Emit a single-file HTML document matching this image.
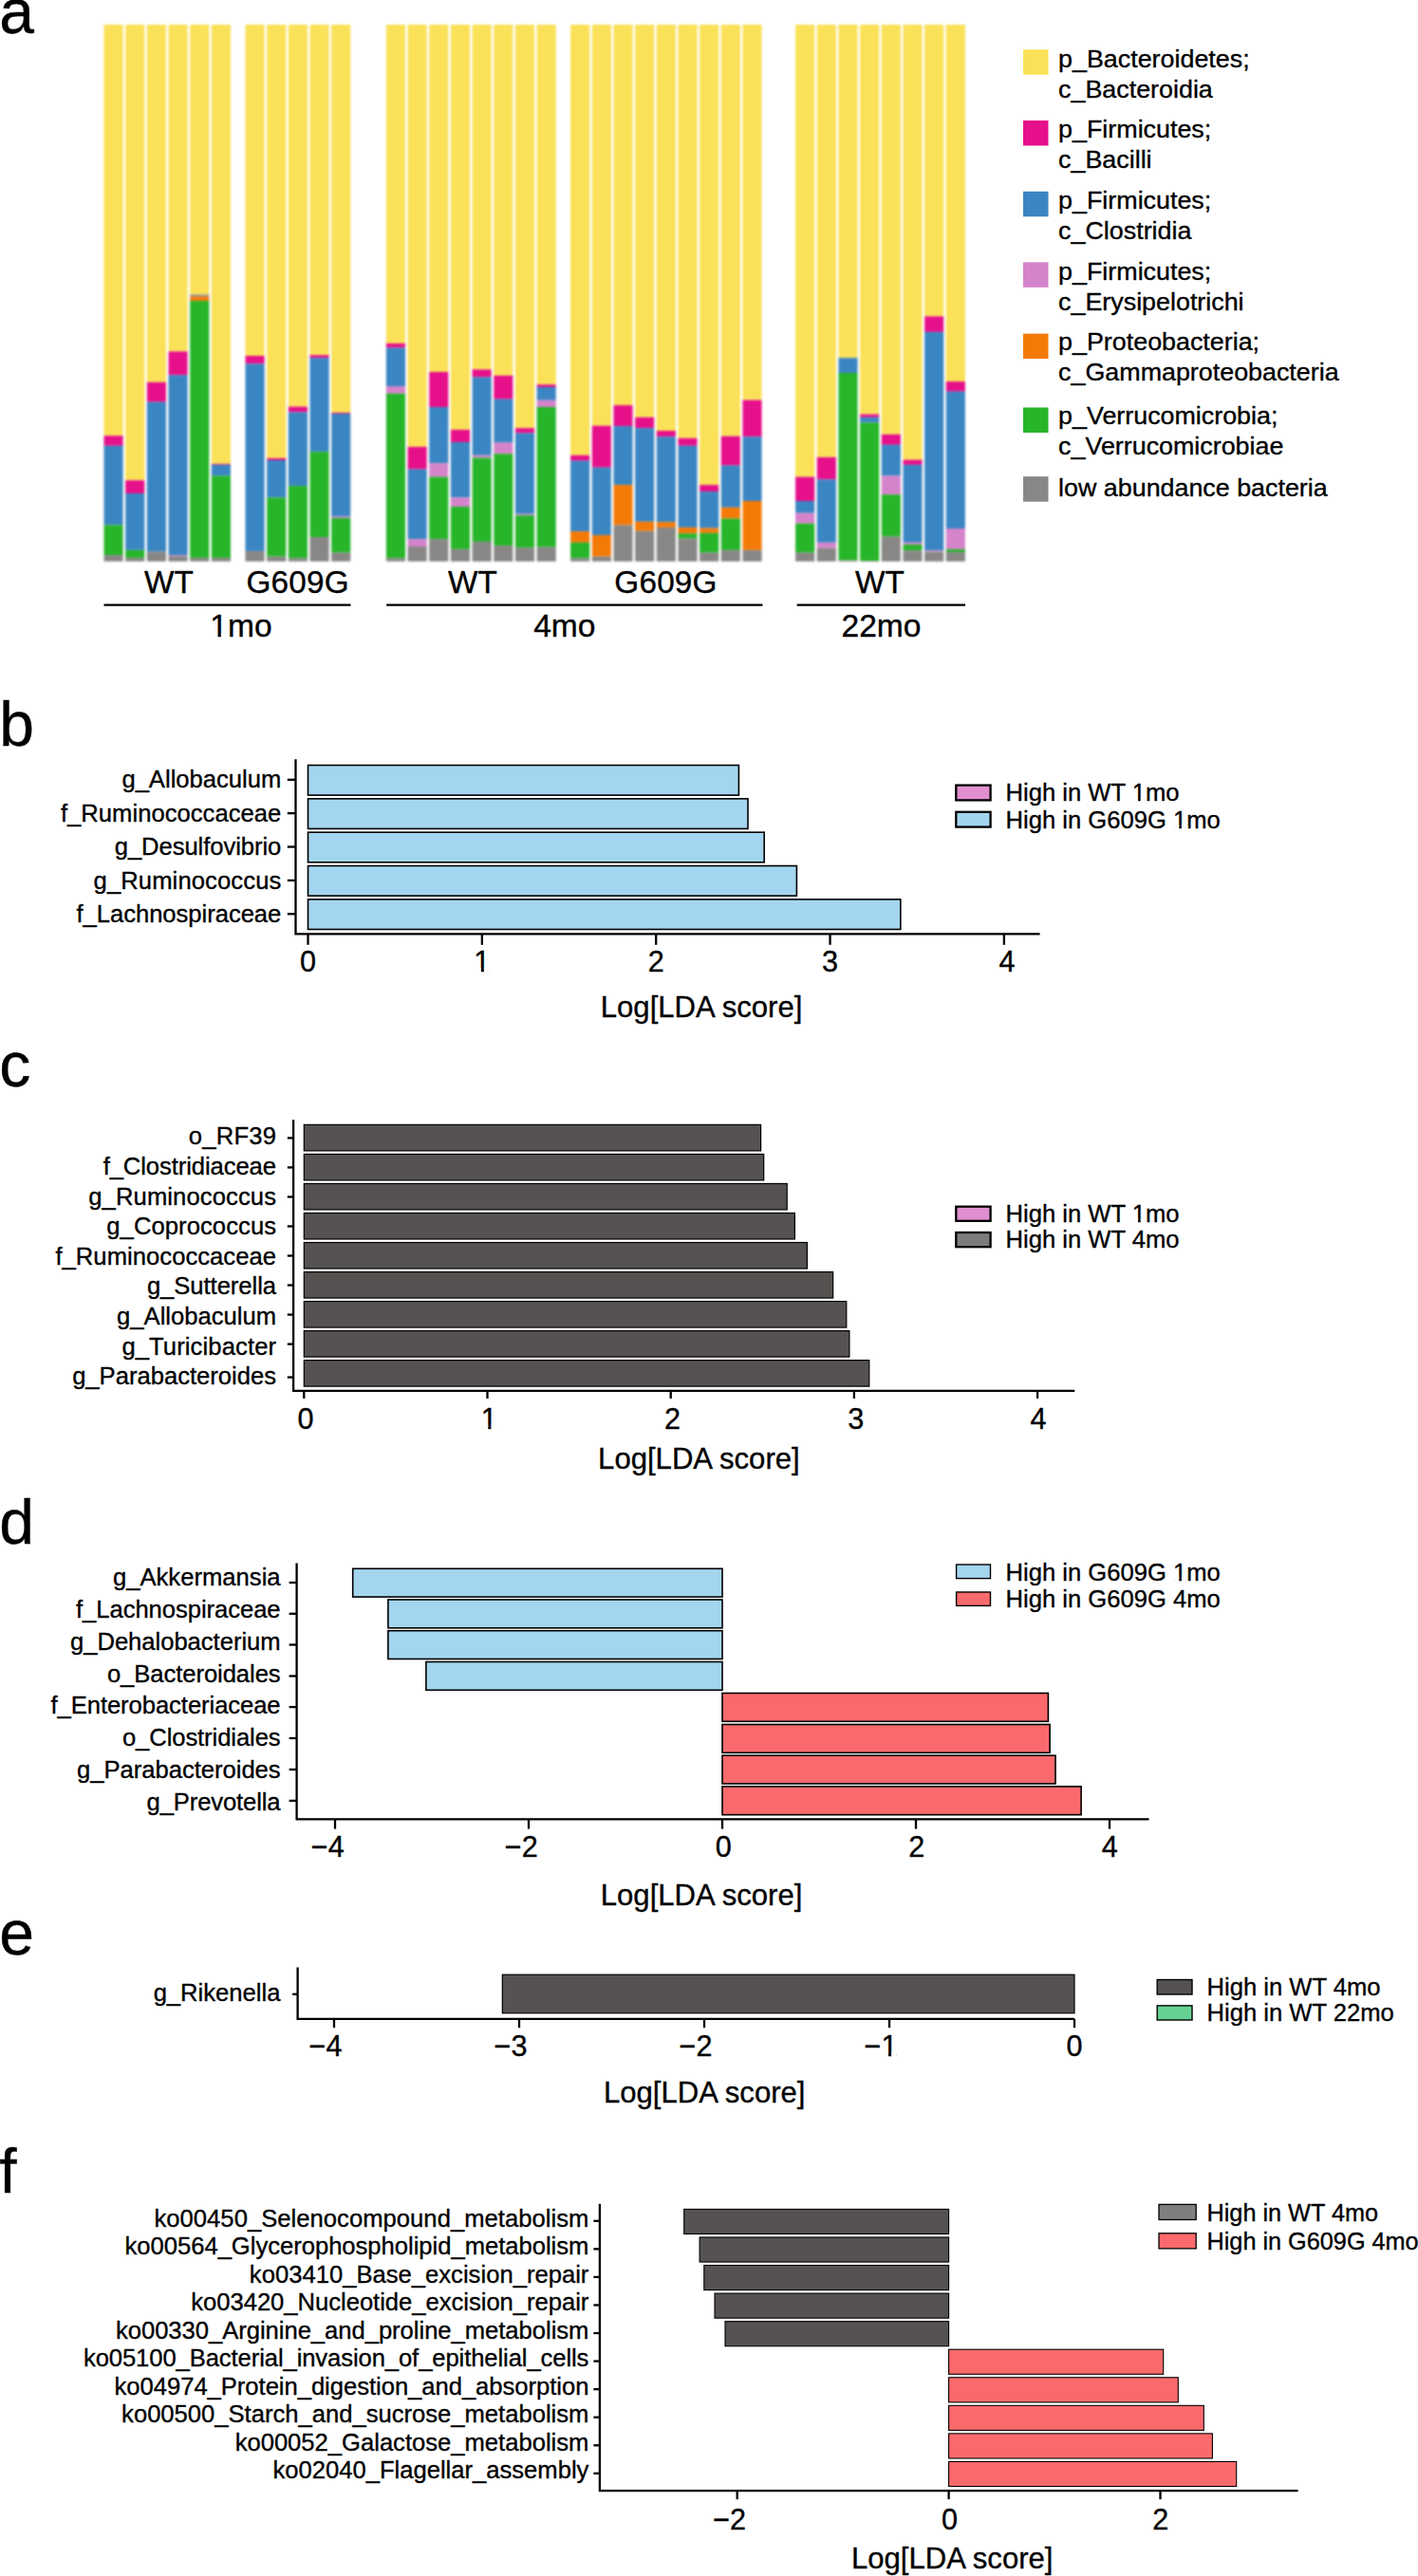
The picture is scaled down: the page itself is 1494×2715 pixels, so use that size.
<!DOCTYPE html>
<html lang="en">
<head>
<meta charset="utf-8">
<title>Figure: gut microbiome composition and LDA scores</title>
<style>
html,body{margin:0;padding:0;background:#fff;}
body{width:1494px;height:2715px;overflow:hidden;}
svg{display:block;}
svg text{font-family:'Liberation Sans', sans-serif;fill:#000;stroke:#000;stroke-width:0.35px;stroke-linejoin:round;}
</style>
</head>
<body>
<svg width="1494" height="2715" viewBox="0 0 1494 2715" shape-rendering="auto">
<defs><filter id="soft" filterUnits="userSpaceOnUse" x="90" y="10" width="950" height="600" color-interpolation-filters="sRGB"><feGaussianBlur stdDeviation="0.8"/></filter></defs>
<rect x="0" y="0" width="1494" height="2715" fill="#fff"/>
<g id="panel-a-bars" filter="url(#soft)">
<rect x="90" y="10" width="950" height="600" fill="#fff"/>
<rect x="109.5" y="26" width="20.1" height="433.2" fill="#FAE158"/>
<rect x="109.5" y="459.2" width="20.1" height="10.6" fill="#E6108A"/>
<rect x="109.5" y="469.8" width="20.1" height="83.6" fill="#3A86C3"/>
<rect x="109.5" y="553.4" width="20.1" height="31.7" fill="#27B52A"/>
<rect x="109.5" y="585.1" width="20.1" height="6.6" fill="#898786"/>
<rect x="132.17" y="26" width="20.1" height="480.2" fill="#FAE158"/>
<rect x="132.17" y="506.2" width="20.1" height="13.8" fill="#E6108A"/>
<rect x="132.17" y="520" width="20.1" height="59.8" fill="#3A86C3"/>
<rect x="132.17" y="579.8" width="20.1" height="8.1" fill="#27B52A"/>
<rect x="132.17" y="587.9" width="20.1" height="3.8" fill="#898786"/>
<rect x="154.84" y="26" width="20.1" height="376.8" fill="#FAE158"/>
<rect x="154.84" y="402.8" width="20.1" height="20.9" fill="#E6108A"/>
<rect x="154.84" y="423.7" width="20.1" height="157.8" fill="#3A86C3"/>
<rect x="154.84" y="581.5" width="20.1" height="10.2" fill="#898786"/>
<rect x="177.51" y="26" width="20.1" height="344.4" fill="#FAE158"/>
<rect x="177.51" y="370.4" width="20.1" height="25" fill="#E6108A"/>
<rect x="177.51" y="395.4" width="20.1" height="189.7" fill="#3A86C3"/>
<rect x="177.51" y="585.1" width="20.1" height="1.1" fill="#D583CB"/>
<rect x="177.51" y="586.2" width="20.1" height="5.5" fill="#898786"/>
<rect x="200.18" y="26" width="20.1" height="284.5" fill="#FAE158"/>
<rect x="200.18" y="310.5" width="20.1" height="2.1" fill="#898786"/>
<rect x="200.18" y="312.6" width="20.1" height="4.5" fill="#F47A08"/>
<rect x="200.18" y="317.1" width="20.1" height="270.8" fill="#27B52A"/>
<rect x="200.18" y="587.9" width="20.1" height="3.8" fill="#898786"/>
<rect x="222.85" y="26" width="20.1" height="462.9" fill="#FAE158"/>
<rect x="222.85" y="488.9" width="20.1" height="1" fill="#E6108A"/>
<rect x="222.85" y="489.9" width="20.1" height="11.6" fill="#3A86C3"/>
<rect x="222.85" y="501.5" width="20.1" height="86.4" fill="#27B52A"/>
<rect x="222.85" y="587.9" width="20.1" height="3.8" fill="#898786"/>
<rect x="258.5" y="26" width="20.1" height="349" fill="#FAE158"/>
<rect x="258.5" y="375" width="20.1" height="8.5" fill="#E6108A"/>
<rect x="258.5" y="383.5" width="20.1" height="197.4" fill="#3A86C3"/>
<rect x="258.5" y="580.9" width="20.1" height="10.8" fill="#898786"/>
<rect x="281.17" y="26" width="20.1" height="456.9" fill="#FAE158"/>
<rect x="281.17" y="482.9" width="20.1" height="2.1" fill="#E6108A"/>
<rect x="281.17" y="485" width="20.1" height="39.4" fill="#3A86C3"/>
<rect x="281.17" y="524.4" width="20.1" height="62.2" fill="#27B52A"/>
<rect x="281.17" y="586.6" width="20.1" height="5.1" fill="#898786"/>
<rect x="303.84" y="26" width="20.1" height="402.6" fill="#FAE158"/>
<rect x="303.84" y="428.6" width="20.1" height="5.9" fill="#E6108A"/>
<rect x="303.84" y="434.5" width="20.1" height="77.6" fill="#3A86C3"/>
<rect x="303.84" y="512.1" width="20.1" height="76.2" fill="#27B52A"/>
<rect x="303.84" y="588.3" width="20.1" height="3.4" fill="#898786"/>
<rect x="326.51" y="26" width="20.1" height="348.2" fill="#FAE158"/>
<rect x="326.51" y="374.2" width="20.1" height="3" fill="#E6108A"/>
<rect x="326.51" y="377.2" width="20.1" height="99" fill="#3A86C3"/>
<rect x="326.51" y="476.2" width="20.1" height="89.9" fill="#27B52A"/>
<rect x="326.51" y="566.1" width="20.1" height="25.6" fill="#898786"/>
<rect x="349.18" y="26" width="20.1" height="408.9" fill="#FAE158"/>
<rect x="349.18" y="434.9" width="20.1" height="1.1" fill="#E6108A"/>
<rect x="349.18" y="436" width="20.1" height="108.5" fill="#3A86C3"/>
<rect x="349.18" y="544.5" width="20.1" height="1.5" fill="#D583CB"/>
<rect x="349.18" y="546" width="20.1" height="36.6" fill="#27B52A"/>
<rect x="349.18" y="582.6" width="20.1" height="9.1" fill="#898786"/>
<rect x="406.9" y="26" width="20.1" height="335.9" fill="#FAE158"/>
<rect x="406.9" y="361.9" width="20.1" height="4.7" fill="#E6108A"/>
<rect x="406.9" y="366.6" width="20.1" height="40.4" fill="#3A86C3"/>
<rect x="406.9" y="407" width="20.1" height="7.8" fill="#D583CB"/>
<rect x="406.9" y="414.8" width="20.1" height="173.5" fill="#27B52A"/>
<rect x="406.9" y="588.3" width="20.1" height="3.4" fill="#898786"/>
<rect x="429.57" y="26" width="20.1" height="444.9" fill="#FAE158"/>
<rect x="429.57" y="470.9" width="20.1" height="23.7" fill="#E6108A"/>
<rect x="429.57" y="494.6" width="20.1" height="73.6" fill="#3A86C3"/>
<rect x="429.57" y="568.2" width="20.1" height="7.8" fill="#D583CB"/>
<rect x="429.57" y="576" width="20.1" height="15.7" fill="#898786"/>
<rect x="452.24" y="26" width="20.1" height="366" fill="#FAE158"/>
<rect x="452.24" y="392" width="20.1" height="37" fill="#E6108A"/>
<rect x="452.24" y="429" width="20.1" height="59.2" fill="#3A86C3"/>
<rect x="452.24" y="488.2" width="20.1" height="14.4" fill="#D583CB"/>
<rect x="452.24" y="502.6" width="20.1" height="65.6" fill="#27B52A"/>
<rect x="452.24" y="568.2" width="20.1" height="23.5" fill="#898786"/>
<rect x="474.91" y="26" width="20.1" height="426.9" fill="#FAE158"/>
<rect x="474.91" y="452.9" width="20.1" height="13.1" fill="#E6108A"/>
<rect x="474.91" y="466" width="20.1" height="58.4" fill="#3A86C3"/>
<rect x="474.91" y="524.4" width="20.1" height="9.5" fill="#D583CB"/>
<rect x="474.91" y="533.9" width="20.1" height="44.9" fill="#27B52A"/>
<rect x="474.91" y="578.8" width="20.1" height="12.9" fill="#898786"/>
<rect x="497.58" y="26" width="20.1" height="363.4" fill="#FAE158"/>
<rect x="497.58" y="389.4" width="20.1" height="8.1" fill="#E6108A"/>
<rect x="497.58" y="397.5" width="20.1" height="82.3" fill="#3A86C3"/>
<rect x="497.58" y="479.8" width="20.1" height="2.7" fill="#D583CB"/>
<rect x="497.58" y="482.5" width="20.1" height="88.4" fill="#27B52A"/>
<rect x="497.58" y="570.9" width="20.1" height="20.8" fill="#898786"/>
<rect x="520.25" y="26" width="20.1" height="369.8" fill="#FAE158"/>
<rect x="520.25" y="395.8" width="20.1" height="24.9" fill="#E6108A"/>
<rect x="520.25" y="420.7" width="20.1" height="45.9" fill="#3A86C3"/>
<rect x="520.25" y="466.6" width="20.1" height="11.7" fill="#D583CB"/>
<rect x="520.25" y="478.3" width="20.1" height="96.9" fill="#27B52A"/>
<rect x="520.25" y="575.2" width="20.1" height="16.5" fill="#898786"/>
<rect x="542.92" y="26" width="20.1" height="425.2" fill="#FAE158"/>
<rect x="542.92" y="451.2" width="20.1" height="5.3" fill="#E6108A"/>
<rect x="542.92" y="456.5" width="20.1" height="85.2" fill="#3A86C3"/>
<rect x="542.92" y="541.7" width="20.1" height="1.5" fill="#D583CB"/>
<rect x="542.92" y="543.2" width="20.1" height="34.1" fill="#27B52A"/>
<rect x="542.92" y="577.3" width="20.1" height="14.4" fill="#898786"/>
<rect x="565.59" y="26" width="20.1" height="379.3" fill="#FAE158"/>
<rect x="565.59" y="405.3" width="20.1" height="2.7" fill="#E6108A"/>
<rect x="565.59" y="408" width="20.1" height="13.8" fill="#3A86C3"/>
<rect x="565.59" y="421.8" width="20.1" height="7.2" fill="#D583CB"/>
<rect x="565.59" y="429" width="20.1" height="147.6" fill="#27B52A"/>
<rect x="565.59" y="576.6" width="20.1" height="15.1" fill="#898786"/>
<rect x="601.1" y="26" width="20.1" height="453.8" fill="#FAE158"/>
<rect x="601.1" y="479.8" width="20.1" height="5.9" fill="#E6108A"/>
<rect x="601.1" y="485.7" width="20.1" height="74.4" fill="#3A86C3"/>
<rect x="601.1" y="560.1" width="20.1" height="11.7" fill="#F47A08"/>
<rect x="601.1" y="571.8" width="20.1" height="16.5" fill="#27B52A"/>
<rect x="601.1" y="588.3" width="20.1" height="3.4" fill="#898786"/>
<rect x="623.77" y="26" width="20.1" height="422.7" fill="#FAE158"/>
<rect x="623.77" y="448.7" width="20.1" height="44" fill="#E6108A"/>
<rect x="623.77" y="492.7" width="20.1" height="71.3" fill="#3A86C3"/>
<rect x="623.77" y="564" width="20.1" height="22.6" fill="#F47A08"/>
<rect x="623.77" y="586.6" width="20.1" height="5.1" fill="#898786"/>
<rect x="646.44" y="26" width="20.1" height="401.1" fill="#FAE158"/>
<rect x="646.44" y="427.1" width="20.1" height="22" fill="#E6108A"/>
<rect x="646.44" y="449.1" width="20.1" height="62" fill="#3A86C3"/>
<rect x="646.44" y="511.1" width="20.1" height="42.3" fill="#F47A08"/>
<rect x="646.44" y="553.4" width="20.1" height="38.3" fill="#898786"/>
<rect x="669.11" y="26" width="20.1" height="413.8" fill="#FAE158"/>
<rect x="669.11" y="439.8" width="20.1" height="11.4" fill="#E6108A"/>
<rect x="669.11" y="451.2" width="20.1" height="98.6" fill="#3A86C3"/>
<rect x="669.11" y="549.8" width="20.1" height="9.9" fill="#F47A08"/>
<rect x="669.11" y="559.7" width="20.1" height="32" fill="#898786"/>
<rect x="691.78" y="26" width="20.1" height="428" fill="#FAE158"/>
<rect x="691.78" y="454" width="20.1" height="6.3" fill="#E6108A"/>
<rect x="691.78" y="460.3" width="20.1" height="89.9" fill="#3A86C3"/>
<rect x="691.78" y="550.2" width="20.1" height="5.7" fill="#F47A08"/>
<rect x="691.78" y="555.9" width="20.1" height="35.8" fill="#898786"/>
<rect x="714.45" y="26" width="20.1" height="435.8" fill="#FAE158"/>
<rect x="714.45" y="461.8" width="20.1" height="8" fill="#E6108A"/>
<rect x="714.45" y="469.8" width="20.1" height="86.1" fill="#3A86C3"/>
<rect x="714.45" y="555.9" width="20.1" height="6.4" fill="#F47A08"/>
<rect x="714.45" y="562.3" width="20.1" height="5.3" fill="#27B52A"/>
<rect x="714.45" y="567.6" width="20.1" height="24.1" fill="#898786"/>
<rect x="737.12" y="26" width="20.1" height="485.1" fill="#FAE158"/>
<rect x="737.12" y="511.1" width="20.1" height="7" fill="#E6108A"/>
<rect x="737.12" y="518.1" width="20.1" height="38.5" fill="#3A86C3"/>
<rect x="737.12" y="556.6" width="20.1" height="5.2" fill="#F47A08"/>
<rect x="737.12" y="561.8" width="20.1" height="20.8" fill="#27B52A"/>
<rect x="737.12" y="582.6" width="20.1" height="9.1" fill="#898786"/>
<rect x="759.79" y="26" width="20.1" height="433.7" fill="#FAE158"/>
<rect x="759.79" y="459.7" width="20.1" height="30.9" fill="#E6108A"/>
<rect x="759.79" y="490.6" width="20.1" height="44.2" fill="#3A86C3"/>
<rect x="759.79" y="534.8" width="20.1" height="11.8" fill="#F47A08"/>
<rect x="759.79" y="546.6" width="20.1" height="33.2" fill="#27B52A"/>
<rect x="759.79" y="579.8" width="20.1" height="11.9" fill="#898786"/>
<rect x="782.46" y="26" width="20.1" height="395.6" fill="#FAE158"/>
<rect x="782.46" y="421.6" width="20.1" height="38.7" fill="#E6108A"/>
<rect x="782.46" y="460.3" width="20.1" height="67.7" fill="#3A86C3"/>
<rect x="782.46" y="528" width="20.1" height="51.8" fill="#F47A08"/>
<rect x="782.46" y="579.8" width="20.1" height="11.9" fill="#898786"/>
<rect x="838.1" y="26" width="20.1" height="476.6" fill="#FAE158"/>
<rect x="838.1" y="502.6" width="20.1" height="25.4" fill="#E6108A"/>
<rect x="838.1" y="528" width="20.1" height="12.7" fill="#3A86C3"/>
<rect x="838.1" y="540.7" width="20.1" height="11" fill="#D583CB"/>
<rect x="838.1" y="551.7" width="20.1" height="30.9" fill="#27B52A"/>
<rect x="838.1" y="582.6" width="20.1" height="9.1" fill="#898786"/>
<rect x="860.77" y="26" width="20.1" height="455.9" fill="#FAE158"/>
<rect x="860.77" y="481.9" width="20.1" height="23.5" fill="#E6108A"/>
<rect x="860.77" y="505.4" width="20.1" height="66.4" fill="#3A86C3"/>
<rect x="860.77" y="571.8" width="20.1" height="5.9" fill="#D583CB"/>
<rect x="860.77" y="577.7" width="20.1" height="14" fill="#898786"/>
<rect x="883.44" y="26" width="20.1" height="351.2" fill="#FAE158"/>
<rect x="883.44" y="377.2" width="20.1" height="15.8" fill="#3A86C3"/>
<rect x="883.44" y="393" width="20.1" height="197.6" fill="#27B52A"/>
<rect x="883.44" y="590.6" width="20.1" height="1.1" fill="#898786"/>
<rect x="906.11" y="26" width="20.1" height="410.6" fill="#FAE158"/>
<rect x="906.11" y="436.6" width="20.1" height="3.2" fill="#E6108A"/>
<rect x="906.11" y="439.8" width="20.1" height="5.7" fill="#3A86C3"/>
<rect x="906.11" y="445.5" width="20.1" height="145.5" fill="#27B52A"/>
<rect x="906.11" y="591" width="20.1" height="0.7" fill="#898786"/>
<rect x="928.78" y="26" width="20.1" height="431.8" fill="#FAE158"/>
<rect x="928.78" y="457.8" width="20.1" height="11" fill="#E6108A"/>
<rect x="928.78" y="468.8" width="20.1" height="32.7" fill="#3A86C3"/>
<rect x="928.78" y="501.5" width="20.1" height="19.7" fill="#D583CB"/>
<rect x="928.78" y="521.2" width="20.1" height="44.4" fill="#27B52A"/>
<rect x="928.78" y="565.6" width="20.1" height="26.1" fill="#898786"/>
<rect x="951.45" y="26" width="20.1" height="458.6" fill="#FAE158"/>
<rect x="951.45" y="484.6" width="20.1" height="5.3" fill="#E6108A"/>
<rect x="951.45" y="489.9" width="20.1" height="81.9" fill="#3A86C3"/>
<rect x="951.45" y="571.8" width="20.1" height="2.1" fill="#D583CB"/>
<rect x="951.45" y="573.9" width="20.1" height="6.3" fill="#27B52A"/>
<rect x="951.45" y="580.2" width="20.1" height="11.5" fill="#898786"/>
<rect x="974.12" y="26" width="20.1" height="307.4" fill="#FAE158"/>
<rect x="974.12" y="333.4" width="20.1" height="16.5" fill="#E6108A"/>
<rect x="974.12" y="349.9" width="20.1" height="230.3" fill="#3A86C3"/>
<rect x="974.12" y="580.2" width="20.1" height="1.3" fill="#D583CB"/>
<rect x="974.12" y="581.5" width="20.1" height="10.2" fill="#898786"/>
<rect x="996.79" y="26" width="20.1" height="376.1" fill="#FAE158"/>
<rect x="996.79" y="402.1" width="20.1" height="10.6" fill="#E6108A"/>
<rect x="996.79" y="412.7" width="20.1" height="144.3" fill="#3A86C3"/>
<rect x="996.79" y="557" width="20.1" height="21.8" fill="#D583CB"/>
<rect x="996.79" y="578.8" width="20.1" height="3.1" fill="#27B52A"/>
<rect x="996.79" y="581.9" width="20.1" height="9.8" fill="#898786"/>
</g>
<g id="panel-a-groups">
<text x="178" y="624.8" font-size="33.3" text-anchor="middle">WT</text>
<text x="313.5" y="624.8" font-size="33.3" text-anchor="middle" textLength="108.2" lengthAdjust="spacing">G609G</text>
<text x="498" y="624.8" font-size="33.3" text-anchor="middle">WT</text>
<text x="701.4" y="624.8" font-size="33.3" text-anchor="middle" textLength="108.2" lengthAdjust="spacing">G609G</text>
<text x="926.9" y="624.8" font-size="33.3" text-anchor="middle">WT</text>
<line x1="109.5" y1="637.7" x2="369.5" y2="637.7" stroke="#000" stroke-width="2.2"/>
<line x1="407.2" y1="637.7" x2="803.4" y2="637.7" stroke="#000" stroke-width="2.2"/>
<line x1="839.6" y1="637.7" x2="1017" y2="637.7" stroke="#000" stroke-width="2.2"/>
<text x="253.9" y="671" font-size="33.6" text-anchor="middle">1mo</text>
<text x="594.8" y="671" font-size="33.6" text-anchor="middle">4mo</text>
<text x="928.5" y="671" font-size="33.6" text-anchor="middle">22mo</text>
</g>
<g id="panel-a-legend">
<rect x="1078" y="52.2" width="26.5" height="26.5" fill="#FAE158"/>
<text transform="translate(1115.1 70.5) scale(1.066 1)" font-size="25.2">p_Bacteroidetes;</text>
<text transform="translate(1115.1 102.7) scale(1.066 1)" font-size="25.2">c_Bacteroidia</text>
<rect x="1078" y="127" width="26.5" height="26.5" fill="#E6108A"/>
<text transform="translate(1115.1 145) scale(1.066 1)" font-size="25.2">p_Firmicutes;</text>
<text transform="translate(1115.1 177.2) scale(1.066 1)" font-size="25.2">c_Bacilli</text>
<rect x="1078" y="201.8" width="26.5" height="26.5" fill="#3A86C3"/>
<text transform="translate(1115.1 219.8) scale(1.066 1)" font-size="25.2">p_Firmicutes;</text>
<text transform="translate(1115.1 252) scale(1.066 1)" font-size="25.2">c_Clostridia</text>
<rect x="1078" y="276.4" width="26.5" height="26.5" fill="#D583CB"/>
<text transform="translate(1115.1 295) scale(1.066 1)" font-size="25.2">p_Firmicutes;</text>
<text transform="translate(1115.1 327.2) scale(1.066 1)" font-size="25.2">c_Erysipelotrichi</text>
<rect x="1078" y="351.6" width="26.5" height="26.5" fill="#F47A08"/>
<text transform="translate(1115.1 369) scale(1.066 1)" font-size="25.2">p_Proteobacteria;</text>
<text transform="translate(1115.1 401.2) scale(1.066 1)" font-size="25.2">c_Gammaproteobacteria</text>
<rect x="1078" y="429.5" width="26.5" height="26.5" fill="#27B52A"/>
<text transform="translate(1115.1 446.8) scale(1.066 1)" font-size="25.2">p_Verrucomicrobia;</text>
<text transform="translate(1115.1 478.9) scale(1.066 1)" font-size="25.2">c_Verrucomicrobiae</text>
<rect x="1078" y="502.2" width="26.5" height="26.5" fill="#898786"/>
<text transform="translate(1115.1 523.1) scale(1.066 1)" font-size="25.2">low abundance bacteria</text>
</g>
<g id="panel-letters">
<text x="-0.7" y="35" font-size="66" text-anchor="start">a</text>
<text x="-0.7" y="785.7" font-size="66" text-anchor="start">b</text>
<text x="-0.7" y="1145" font-size="66" text-anchor="start">c</text>
<text x="-0.7" y="1627" font-size="66" text-anchor="start">d</text>
<text x="-0.7" y="2059.6" font-size="66" text-anchor="start">e</text>
<text x="-0.7" y="2310.6" font-size="66" text-anchor="start">f</text>
</g>
<g id="panel-b">
<rect x="324.5" y="806.5" width="453.9" height="31.6" fill="#A4D5EE" stroke="#000" stroke-width="1.6"/>
<rect x="324.5" y="841.85" width="463.5" height="31.6" fill="#A4D5EE" stroke="#000" stroke-width="1.6"/>
<rect x="324.5" y="877.2" width="480.7" height="31.6" fill="#A4D5EE" stroke="#000" stroke-width="1.6"/>
<rect x="324.5" y="912.55" width="514.9" height="31.6" fill="#A4D5EE" stroke="#000" stroke-width="1.6"/>
<rect x="324.5" y="947.9" width="624.3" height="31.6" fill="#A4D5EE" stroke="#000" stroke-width="1.6"/>
<polyline points="311.5,800.3 311.5,984.4 1095.6,984.4" fill="none" stroke="#000" stroke-width="2.3" stroke-linejoin="miter"/>
<line x1="302.8" y1="821.8" x2="311.5" y2="821.8" stroke="#000" stroke-width="2.3"/>
<line x1="302.8" y1="857.17" x2="311.5" y2="857.17" stroke="#000" stroke-width="2.3"/>
<line x1="302.8" y1="892.54" x2="311.5" y2="892.54" stroke="#000" stroke-width="2.3"/>
<line x1="302.8" y1="927.91" x2="311.5" y2="927.91" stroke="#000" stroke-width="2.3"/>
<line x1="302.8" y1="963.28" x2="311.5" y2="963.28" stroke="#000" stroke-width="2.3"/>
<line x1="324.5" y1="984.4" x2="324.5" y2="995.8" stroke="#000" stroke-width="2.3"/>
<text x="324.5" y="1023.6" font-size="30.6" text-anchor="middle">0</text>
<line x1="507.85" y1="984.4" x2="507.85" y2="995.8" stroke="#000" stroke-width="2.3"/>
<text x="507.85" y="1023.6" font-size="30.6" text-anchor="middle">1</text>
<line x1="691.2" y1="984.4" x2="691.2" y2="995.8" stroke="#000" stroke-width="2.3"/>
<text x="691.2" y="1023.6" font-size="30.6" text-anchor="middle">2</text>
<line x1="874.55" y1="984.4" x2="874.55" y2="995.8" stroke="#000" stroke-width="2.3"/>
<text x="874.55" y="1023.6" font-size="30.6" text-anchor="middle">3</text>
<line x1="1057.9" y1="984.4" x2="1057.9" y2="995.8" stroke="#000" stroke-width="2.3"/>
<text x="1061" y="1023.6" font-size="30.6" text-anchor="middle">4</text>
<text x="296.3" y="830.4" font-size="25.6" text-anchor="end">g_Allobaculum</text>
<text x="296.3" y="865.77" font-size="25.6" text-anchor="end" textLength="232.41" lengthAdjust="spacing">f_Ruminococcaceae</text>
<text x="296.3" y="901.14" font-size="25.6" text-anchor="end" textLength="175.52" lengthAdjust="spacing">g_Desulfovibrio</text>
<text x="296.3" y="936.51" font-size="25.6" text-anchor="end" textLength="197.73" lengthAdjust="spacing">g_Ruminococcus</text>
<text x="296.3" y="971.88" font-size="25.6" text-anchor="end" textLength="215.8" lengthAdjust="spacing">f_Lachnospiraceae</text>
<text x="739.1" y="1071.6" font-size="31.1" text-anchor="middle">Log[LDA score]</text>
<rect x="1007.3" y="827.6" width="36.3" height="15.8" fill="#E08FD0" stroke="#000" stroke-width="2.3"/>
<text x="1059.6" y="844.3" font-size="25.6" text-anchor="start">High in WT 1mo</text>
<rect x="1007.3" y="855.8" width="36.3" height="15.8" fill="#A4D5EE" stroke="#000" stroke-width="2.3"/>
<text x="1059.6" y="872.5" font-size="25.6" text-anchor="start">High in G609G 1mo</text>
</g>
<g id="panel-c">
<rect x="320.3" y="1185.4" width="481.3" height="27.5" fill="#565251" stroke="#000" stroke-width="1.2"/>
<rect x="320.3" y="1216.43" width="484.4" height="27.5" fill="#565251" stroke="#000" stroke-width="1.2"/>
<rect x="320.3" y="1247.46" width="508.9" height="27.5" fill="#565251" stroke="#000" stroke-width="1.2"/>
<rect x="320.3" y="1278.49" width="517.1" height="27.5" fill="#565251" stroke="#000" stroke-width="1.2"/>
<rect x="320.3" y="1309.52" width="530.1" height="27.5" fill="#565251" stroke="#000" stroke-width="1.2"/>
<rect x="320.3" y="1340.55" width="557.4" height="27.5" fill="#565251" stroke="#000" stroke-width="1.2"/>
<rect x="320.3" y="1371.58" width="571.5" height="27.5" fill="#565251" stroke="#000" stroke-width="1.2"/>
<rect x="320.3" y="1402.61" width="574.6" height="27.5" fill="#565251" stroke="#000" stroke-width="1.2"/>
<rect x="320.3" y="1433.64" width="595.5" height="27.5" fill="#565251" stroke="#000" stroke-width="1.2"/>
<polyline points="309.1,1180.3 309.1,1465.8 1132.3,1465.8" fill="none" stroke="#000" stroke-width="2.3" stroke-linejoin="miter"/>
<line x1="302.8" y1="1199.4" x2="309.1" y2="1199.4" stroke="#000" stroke-width="2.3"/>
<line x1="302.8" y1="1230.43" x2="309.1" y2="1230.43" stroke="#000" stroke-width="2.3"/>
<line x1="302.8" y1="1261.46" x2="309.1" y2="1261.46" stroke="#000" stroke-width="2.3"/>
<line x1="302.8" y1="1292.49" x2="309.1" y2="1292.49" stroke="#000" stroke-width="2.3"/>
<line x1="302.8" y1="1323.52" x2="309.1" y2="1323.52" stroke="#000" stroke-width="2.3"/>
<line x1="302.8" y1="1354.55" x2="309.1" y2="1354.55" stroke="#000" stroke-width="2.3"/>
<line x1="302.8" y1="1385.58" x2="309.1" y2="1385.58" stroke="#000" stroke-width="2.3"/>
<line x1="302.8" y1="1416.61" x2="309.1" y2="1416.61" stroke="#000" stroke-width="2.3"/>
<line x1="302.8" y1="1451.6" x2="309.1" y2="1451.6" stroke="#000" stroke-width="2.3"/>
<line x1="320.3" y1="1465.8" x2="320.3" y2="1474" stroke="#000" stroke-width="2.3"/>
<text x="322.1" y="1505.9" font-size="30.6" text-anchor="middle">0</text>
<line x1="513.5" y1="1465.8" x2="513.5" y2="1474" stroke="#000" stroke-width="2.3"/>
<text x="515.3" y="1505.9" font-size="30.6" text-anchor="middle">1</text>
<line x1="706.7" y1="1465.8" x2="706.7" y2="1474" stroke="#000" stroke-width="2.3"/>
<text x="708.5" y="1505.9" font-size="30.6" text-anchor="middle">2</text>
<line x1="899.9" y1="1465.8" x2="899.9" y2="1474" stroke="#000" stroke-width="2.3"/>
<text x="901.7" y="1505.9" font-size="30.6" text-anchor="middle">3</text>
<line x1="1093.1" y1="1465.8" x2="1093.1" y2="1474" stroke="#000" stroke-width="2.3"/>
<text x="1093.9" y="1505.9" font-size="30.6" text-anchor="middle">4</text>
<text x="291" y="1206.3" font-size="25.6" text-anchor="end" textLength="92.26" lengthAdjust="spacing">o_RF39</text>
<text x="291" y="1237.9" font-size="25.6" text-anchor="end" textLength="182.33" lengthAdjust="spacing">f_Clostridiaceae</text>
<text x="291" y="1269.5" font-size="25.6" text-anchor="end" textLength="197.73" lengthAdjust="spacing">g_Ruminococcus</text>
<text x="291" y="1301.1" font-size="25.6" text-anchor="end" textLength="178.74" lengthAdjust="spacing">g_Coprococcus</text>
<text x="291" y="1332.7" font-size="25.6" text-anchor="end" textLength="232.61" lengthAdjust="spacing">f_Ruminococcaceae</text>
<text x="291" y="1364.3" font-size="25.6" text-anchor="end" textLength="136.09" lengthAdjust="spacing">g_Sutterella</text>
<text x="291" y="1395.9" font-size="25.6" text-anchor="end">g_Allobaculum</text>
<text x="291" y="1427.5" font-size="25.6" text-anchor="end" textLength="162.62" lengthAdjust="spacing">g_Turicibacter</text>
<text x="291" y="1458.8" font-size="25.6" text-anchor="end">g_Parabacteroides</text>
<text x="736.4" y="1548.2" font-size="31.1" text-anchor="middle">Log[LDA score]</text>
<rect x="1007.3" y="1271.7" width="36.3" height="15.1" fill="#E08FD0" stroke="#000" stroke-width="2.3"/>
<text x="1059.6" y="1287.9" font-size="25.6" text-anchor="start">High in WT 1mo</text>
<rect x="1007.3" y="1299" width="36.3" height="15.2" fill="#7E7C7B" stroke="#000" stroke-width="2.3"/>
<text x="1059.6" y="1315.3" font-size="25.6" text-anchor="start">High in WT 4mo</text>
</g>
<g id="panel-d">
<rect x="371.7" y="1653.3" width="389.3" height="29.8" fill="#A4D5EE" stroke="#000" stroke-width="1.6"/>
<rect x="408.9" y="1686" width="352.1" height="29.8" fill="#A4D5EE" stroke="#000" stroke-width="1.6"/>
<rect x="408.9" y="1718.7" width="352.1" height="29.8" fill="#A4D5EE" stroke="#000" stroke-width="1.6"/>
<rect x="448.9" y="1751.5" width="312.1" height="29.8" fill="#A4D5EE" stroke="#000" stroke-width="1.6"/>
<rect x="761" y="1784.5" width="343.4" height="29.8" fill="#FA6A6D" stroke="#000" stroke-width="1.6"/>
<rect x="761" y="1817.5" width="345.1" height="29.8" fill="#FA6A6D" stroke="#000" stroke-width="1.6"/>
<rect x="761" y="1850.2" width="351" height="29.8" fill="#FA6A6D" stroke="#000" stroke-width="1.6"/>
<rect x="761" y="1882.9" width="378.1" height="29.8" fill="#FA6A6D" stroke="#000" stroke-width="1.6"/>
<polyline points="312.6,1647.5 312.6,1917.4 1210.5,1917.4" fill="none" stroke="#000" stroke-width="2.3" stroke-linejoin="miter"/>
<line x1="304.6" y1="1668" x2="312.6" y2="1668" stroke="#000" stroke-width="2.3"/>
<line x1="304.6" y1="1700.8" x2="312.6" y2="1700.8" stroke="#000" stroke-width="2.3"/>
<line x1="304.6" y1="1733.5" x2="312.6" y2="1733.5" stroke="#000" stroke-width="2.3"/>
<line x1="304.6" y1="1766.5" x2="312.6" y2="1766.5" stroke="#000" stroke-width="2.3"/>
<line x1="304.6" y1="1799.1" x2="312.6" y2="1799.1" stroke="#000" stroke-width="2.3"/>
<line x1="304.6" y1="1832" x2="312.6" y2="1832" stroke="#000" stroke-width="2.3"/>
<line x1="304.6" y1="1865" x2="312.6" y2="1865" stroke="#000" stroke-width="2.3"/>
<line x1="304.6" y1="1897.9" x2="312.6" y2="1897.9" stroke="#000" stroke-width="2.3"/>
<line x1="353" y1="1917.4" x2="353" y2="1927.6" stroke="#000" stroke-width="2.3"/>
<text x="362.71" y="1956.5" font-size="30.6" text-anchor="end">−4</text>
<line x1="557" y1="1917.4" x2="557" y2="1927.6" stroke="#000" stroke-width="2.3"/>
<text x="566.71" y="1956.5" font-size="30.6" text-anchor="end">−2</text>
<line x1="761" y1="1917.4" x2="761" y2="1927.6" stroke="#000" stroke-width="2.3"/>
<text x="762.2" y="1956.5" font-size="30.6" text-anchor="middle">0</text>
<line x1="965" y1="1917.4" x2="965" y2="1927.6" stroke="#000" stroke-width="2.3"/>
<text x="965.8" y="1956.5" font-size="30.6" text-anchor="middle">2</text>
<line x1="1169" y1="1917.4" x2="1169" y2="1927.6" stroke="#000" stroke-width="2.3"/>
<text x="1169.3" y="1956.5" font-size="30.6" text-anchor="middle">4</text>
<text x="295.6" y="1671" font-size="25.6" text-anchor="end" textLength="176.71" lengthAdjust="spacing">g_Akkermansia</text>
<text x="295.6" y="1704.8" font-size="25.6" text-anchor="end" textLength="215.6" lengthAdjust="spacing">f_Lachnospiraceae</text>
<text x="295.6" y="1738.7" font-size="25.6" text-anchor="end" textLength="221.6" lengthAdjust="spacing">g_Dehalobacterium</text>
<text x="295.6" y="1772.5" font-size="25.6" text-anchor="end" textLength="182.65" lengthAdjust="spacing">o_Bacteroidales</text>
<text x="295.6" y="1806.4" font-size="25.6" text-anchor="end" textLength="242.11" lengthAdjust="spacing">f_Enterobacteriaceae</text>
<text x="295.6" y="1840.2" font-size="25.6" text-anchor="end" textLength="166.66" lengthAdjust="spacing">o_Clostridiales</text>
<text x="295.6" y="1874.1" font-size="25.6" text-anchor="end" textLength="214.51" lengthAdjust="spacing">g_Parabacteroides</text>
<text x="295.6" y="1907.7" font-size="25.6" text-anchor="end" textLength="141.08" lengthAdjust="spacing">g_Prevotella</text>
<text x="739.1" y="2007.9" font-size="31.1" text-anchor="middle">Log[LDA score]</text>
<rect x="1007.6" y="1649" width="35.9" height="14.6" fill="#A4D5EE" stroke="#000" stroke-width="1.4"/>
<text x="1059.6" y="1665.5" font-size="25.6" text-anchor="start">High in G609G 1mo</text>
<rect x="1007.6" y="1678" width="35.9" height="14.4" fill="#FA6A6D" stroke="#000" stroke-width="1.4"/>
<text x="1059.6" y="1693.7" font-size="25.6" text-anchor="start">High in G609G 4mo</text>
</g>
<g id="panel-e">
<rect x="529.3" y="2081.2" width="602.7" height="40.6" fill="#565251" stroke="#000" stroke-width="1.2"/>
<polyline points="313.6,2073.6 313.6,2127.9 1132,2127.9" fill="none" stroke="#000" stroke-width="2.3" stroke-linejoin="miter"/>
<line x1="308.1" y1="2101.8" x2="313.6" y2="2101.8" stroke="#000" stroke-width="2.3"/>
<line x1="352" y1="2127.9" x2="352" y2="2137.2" stroke="#000" stroke-width="2.3"/>
<text x="360.51" y="2166.7" font-size="30.6" text-anchor="end">−4</text>
<line x1="547" y1="2127.9" x2="547" y2="2137.2" stroke="#000" stroke-width="2.3"/>
<text x="555.51" y="2166.7" font-size="30.6" text-anchor="end">−3</text>
<line x1="742" y1="2127.9" x2="742" y2="2137.2" stroke="#000" stroke-width="2.3"/>
<text x="750.51" y="2166.7" font-size="30.6" text-anchor="end">−2</text>
<line x1="937" y1="2127.9" x2="937" y2="2137.2" stroke="#000" stroke-width="2.3"/>
<text x="945.51" y="2166.7" font-size="30.6" text-anchor="end">−1</text>
<line x1="1132" y1="2127.9" x2="1132" y2="2137.2" stroke="#000" stroke-width="2.3"/>
<text x="1132" y="2166.7" font-size="30.6" text-anchor="middle">0</text>
<text x="295.4" y="2108.9" font-size="25.6" text-anchor="end">g_Rikenella</text>
<text x="742.2" y="2216.1" font-size="31.1" text-anchor="middle">Log[LDA score]</text>
<rect x="1219.2" y="2086.5" width="36.8" height="15.5" fill="#565251" stroke="#000" stroke-width="1.4"/>
<text x="1271.5" y="2103.1" font-size="25.6" text-anchor="start">High in WT 4mo</text>
<rect x="1219.2" y="2113.9" width="36.8" height="15.1" fill="#65D192" stroke="#000" stroke-width="1.4"/>
<text x="1271.5" y="2130.1" font-size="25.6" text-anchor="start">High in WT 22mo</text>
</g>
<g id="panel-f">
<rect x="720.7" y="2328.4" width="278.9" height="26.1" fill="#565251" stroke="#000" stroke-width="1.1"/>
<rect x="737.1" y="2357.96" width="262.5" height="26.1" fill="#565251" stroke="#000" stroke-width="1.1"/>
<rect x="741.8" y="2387.52" width="257.8" height="26.1" fill="#565251" stroke="#000" stroke-width="1.1"/>
<rect x="753" y="2417.08" width="246.6" height="26.1" fill="#565251" stroke="#000" stroke-width="1.1"/>
<rect x="764" y="2446.64" width="235.6" height="26.1" fill="#565251" stroke="#000" stroke-width="1.1"/>
<rect x="999.6" y="2476.2" width="226.1" height="26.1" fill="#FA6A6D" stroke="#000" stroke-width="1.1"/>
<rect x="999.6" y="2505.76" width="241.7" height="26.1" fill="#FA6A6D" stroke="#000" stroke-width="1.1"/>
<rect x="999.6" y="2535.32" width="268.7" height="26.1" fill="#FA6A6D" stroke="#000" stroke-width="1.1"/>
<rect x="999.6" y="2564.88" width="277.8" height="26.1" fill="#FA6A6D" stroke="#000" stroke-width="1.1"/>
<rect x="999.6" y="2594.44" width="303.1" height="26.1" fill="#FA6A6D" stroke="#000" stroke-width="1.1"/>
<polyline points="631.9,2322.8 631.9,2625.2 1367.6,2625.2" fill="none" stroke="#000" stroke-width="2.3" stroke-linejoin="miter"/>
<line x1="625.4" y1="2340.8" x2="631.9" y2="2340.8" stroke="#000" stroke-width="2.3"/>
<line x1="625.4" y1="2370.36" x2="631.9" y2="2370.36" stroke="#000" stroke-width="2.3"/>
<line x1="625.4" y1="2399.92" x2="631.9" y2="2399.92" stroke="#000" stroke-width="2.3"/>
<line x1="625.4" y1="2429.48" x2="631.9" y2="2429.48" stroke="#000" stroke-width="2.3"/>
<line x1="625.4" y1="2459.04" x2="631.9" y2="2459.04" stroke="#000" stroke-width="2.3"/>
<line x1="625.4" y1="2488.6" x2="631.9" y2="2488.6" stroke="#000" stroke-width="2.3"/>
<line x1="625.4" y1="2518.16" x2="631.9" y2="2518.16" stroke="#000" stroke-width="2.3"/>
<line x1="625.4" y1="2547.72" x2="631.9" y2="2547.72" stroke="#000" stroke-width="2.3"/>
<line x1="625.4" y1="2577.28" x2="631.9" y2="2577.28" stroke="#000" stroke-width="2.3"/>
<line x1="625.4" y1="2606.84" x2="631.9" y2="2606.84" stroke="#000" stroke-width="2.3"/>
<line x1="776.7" y1="2625.2" x2="776.7" y2="2634.2" stroke="#000" stroke-width="2.3"/>
<text x="786.11" y="2666.3" font-size="30.6" text-anchor="end">−2</text>
<line x1="999.6" y1="2625.2" x2="999.6" y2="2634.2" stroke="#000" stroke-width="2.3"/>
<text x="1000.5" y="2666.3" font-size="30.6" text-anchor="middle">0</text>
<line x1="1222.5" y1="2625.2" x2="1222.5" y2="2634.2" stroke="#000" stroke-width="2.3"/>
<text x="1222.7" y="2666.3" font-size="30.6" text-anchor="middle">2</text>
<text x="620.4" y="2346.8" font-size="25.6" text-anchor="end" textLength="457.95" lengthAdjust="spacing">ko00450_Selenocompound_metabolism</text>
<text x="620.4" y="2376.27" font-size="25.6" text-anchor="end" textLength="488.84" lengthAdjust="spacing">ko00564_Glycerophospholipid_metabolism</text>
<text x="620.4" y="2405.74" font-size="25.6" text-anchor="end" textLength="357.54" lengthAdjust="spacing">ko03410_Base_excision_repair</text>
<text x="620.4" y="2435.21" font-size="25.6" text-anchor="end" textLength="419.15" lengthAdjust="spacing">ko03420_Nucleotide_excision_repair</text>
<text x="620.4" y="2464.68" font-size="25.6" text-anchor="end" textLength="498.44" lengthAdjust="spacing">ko00330_Arginine_and_proline_metabolism</text>
<text x="620.4" y="2494.15" font-size="25.6" text-anchor="end" textLength="532.42" lengthAdjust="spacing">ko05100_Bacterial_invasion_of_epithelial_cells</text>
<text x="620.4" y="2523.62" font-size="25.6" text-anchor="end" textLength="499.81" lengthAdjust="spacing">ko04974_Protein_digestion_and_absorption</text>
<text x="620.4" y="2553.09" font-size="25.6" text-anchor="end">ko00500_Starch_and_sucrose_metabolism</text>
<text x="620.4" y="2582.56" font-size="25.6" text-anchor="end">ko00052_Galactose_metabolism</text>
<text x="620.4" y="2612.03" font-size="25.6" text-anchor="end">ko02040_Flagellar_assembly</text>
<text x="1003.2" y="2707.3" font-size="31.1" text-anchor="middle">Log[LDA score]</text>
<rect x="1221" y="2323.4" width="39.2" height="16.1" fill="#7F7F7F" stroke="#000" stroke-width="1.3"/>
<text x="1271.5" y="2340.8" font-size="25.25" text-anchor="start">High in WT 4mo</text>
<rect x="1221" y="2353.8" width="39.2" height="16.1" fill="#FA6A6D" stroke="#000" stroke-width="1.3"/>
<text x="1271.5" y="2371.3" font-size="25.25" text-anchor="start">High in G609G 4mo</text>
</g>
<g id="digit-one-trim" fill="#fff">
<rect x="223.1" y="667.59" width="6.39" height="4.91"/>
<rect x="232.85" y="667.59" width="6.13" height="4.91"/>
<rect x="500.97" y="1020.41" width="5.86" height="4.69"/>
<rect x="509.94" y="1020.41" width="5.63" height="4.69"/>
<rect x="1194.05" y="841.49" width="4.99" height="4.31"/>
<rect x="1201.7" y="841.49" width="4.79" height="4.31"/>
<rect x="1237.26" y="869.69" width="4.99" height="4.31"/>
<rect x="1244.91" y="869.69" width="4.79" height="4.31"/>
<rect x="508.42" y="1502.71" width="5.86" height="4.69"/>
<rect x="517.39" y="1502.71" width="5.63" height="4.69"/>
<rect x="1194.05" y="1285.09" width="4.99" height="4.31"/>
<rect x="1201.7" y="1285.09" width="4.79" height="4.31"/>
<rect x="1237.26" y="1662.69" width="4.99" height="4.31"/>
<rect x="1244.91" y="1662.69" width="4.79" height="4.31"/>
<rect x="930.11" y="2163.51" width="5.86" height="4.69"/>
<rect x="939.08" y="2163.51" width="5.63" height="4.69"/>
</g>
</svg>
</body>
</html>
